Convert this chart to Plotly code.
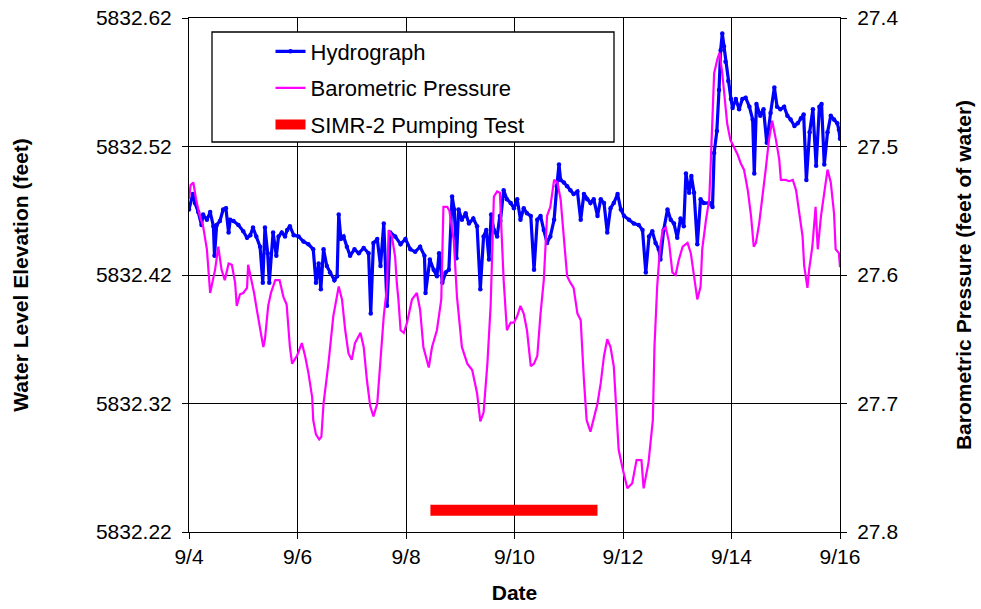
import plotly.graph_objects as go

# ---------------- data ----------------
hydro_day = [4.00, 4.07, 4.11, 4.17, 4.23, 4.26, 4.33, 4.39, 4.45, 4.47, 4.51, 4.57, 4.63, 4.68, 4.73, 4.76,
             4.82, 4.91, 5.00, 5.07, 5.13, 5.18, 5.24, 5.31, 5.36, 5.40, 5.45, 5.48, 5.55, 5.61, 5.65, 5.71,
             5.77, 5.81, 5.86, 5.93, 6.02, 6.11, 6.20, 6.29, 6.34, 6.39, 6.43, 6.48, 6.54, 6.60, 6.68, 6.73,
             6.76, 6.80, 6.85, 6.91, 6.97, 7.05, 7.13, 7.22, 7.31, 7.35, 7.40, 7.47, 7.53, 7.59, 7.65, 7.71,
             7.80, 7.90, 7.99, 8.08, 8.17, 8.26, 8.34, 8.36, 8.44, 8.51, 8.57, 8.61, 8.67, 8.73, 8.79, 8.85,
             8.89, 8.93, 8.97, 9.03, 9.10, 9.16, 9.24, 9.31, 9.37, 9.43, 9.48, 9.53, 9.57, 9.62, 9.68, 9.73,
             9.74, 9.80, 9.86, 9.93, 9.99, 10.05, 10.11, 10.17, 10.23, 10.30, 10.36, 10.42, 10.48, 10.54, 10.60, 10.66,
             10.73, 10.78, 10.82, 10.85, 10.91, 10.97, 11.03, 11.09, 11.16, 11.22, 11.28, 11.34, 11.40, 11.46, 11.53, 11.59,
             11.65, 11.71, 11.77, 11.83, 11.90, 11.96, 12.02, 12.11, 12.20, 12.29, 12.36, 12.42, 12.48, 12.54, 12.60, 12.66,
             12.69, 12.75, 12.82, 12.88, 12.94, 13.00, 13.06, 13.12, 13.16, 13.22, 13.26, 13.31, 13.37, 13.43, 13.49, 13.59,
             13.65, 13.68, 13.73, 13.77, 13.80, 13.83, 13.86, 13.89, 13.94, 13.99, 14.02, 14.08, 14.14, 14.20, 14.26, 14.33,
             14.39, 14.42, 14.46, 14.53, 14.59, 14.65, 14.72, 14.79, 14.84, 14.90, 14.97, 15.03, 15.09, 15.16, 15.22, 15.28,
             15.33, 15.38, 15.44, 15.50, 15.56, 15.62, 15.66, 15.71, 15.77, 15.83, 15.89, 15.95, 15.98, 16.00]
hydro_elev = [5832.471, 5832.483, 5832.476, 5832.469, 5832.459, 5832.467, 5832.463, 5832.469, 5832.458, 5832.435, 5832.459, 5832.462, 5832.471, 5832.472, 5832.453, 5832.463,
              5832.462, 5832.459, 5832.454, 5832.449, 5832.451, 5832.457, 5832.450, 5832.442, 5832.414, 5832.457, 5832.437, 5832.414, 5832.453, 5832.435, 5832.450, 5832.453,
              5832.450, 5832.455, 5832.458, 5832.451, 5832.450, 5832.446, 5832.444, 5832.440, 5832.414, 5832.429, 5832.409, 5832.440, 5832.427, 5832.422, 5832.416, 5832.419,
              5832.467, 5832.448, 5832.450, 5832.442, 5832.435, 5832.440, 5832.437, 5832.441, 5832.437, 5832.390, 5832.445, 5832.448, 5832.427, 5832.460, 5832.396, 5832.453,
              5832.450, 5832.444, 5832.448, 5832.440, 5832.438, 5832.442, 5832.435, 5832.406, 5832.432, 5832.424, 5832.419, 5832.437, 5832.414, 5832.422, 5832.424, 5832.481,
              5832.471, 5832.433, 5832.471, 5832.463, 5832.468, 5832.460, 5832.464, 5832.458, 5832.409, 5832.450, 5832.455, 5832.432, 5832.467, 5832.455, 5832.450, 5832.466,
              5832.462, 5832.486, 5832.479, 5832.476, 5832.472, 5832.479, 5832.463, 5832.472, 5832.468, 5832.466, 5832.424, 5832.463, 5832.466, 5832.455, 5832.445, 5832.450,
              5832.463, 5832.489, 5832.506, 5832.494, 5832.492, 5832.489, 5832.486, 5832.483, 5832.485, 5832.463, 5832.483, 5832.479, 5832.476, 5832.479, 5832.466, 5832.479,
              5832.476, 5832.453, 5832.472, 5832.476, 5832.483, 5832.471, 5832.466, 5832.463, 5832.460, 5832.459, 5832.455, 5832.422, 5832.450, 5832.454, 5832.445, 5832.440,
              5832.432, 5832.455, 5832.471, 5832.463, 5832.460, 5832.449, 5832.464, 5832.458, 5832.499, 5832.484, 5832.497, 5832.484, 5832.444, 5832.479, 5832.476, 5832.476,
              5832.473, 5832.515, 5832.532, 5832.564, 5832.595, 5832.608, 5832.598, 5832.586, 5832.571, 5832.557, 5832.550, 5832.557, 5832.549, 5832.557, 5832.558, 5832.551,
              5832.541, 5832.499, 5832.553, 5832.544, 5832.549, 5832.523, 5832.546, 5832.566, 5832.551, 5832.549, 5832.551, 5832.544, 5832.541, 5832.536, 5832.538, 5832.542,
              5832.545, 5832.494, 5832.531, 5832.549, 5832.505, 5832.551, 5832.553, 5832.506, 5832.531, 5832.544, 5832.541, 5832.538, 5832.533, 5832.526]

baro_day = [4.00, 4.03, 4.08, 4.13, 4.20, 4.26, 4.33, 4.39, 4.48, 4.54, 4.60, 4.66, 4.73, 4.79, 4.85, 4.88,
            4.94, 5.00, 5.07, 5.09, 5.16, 5.20, 5.25, 5.31, 5.37, 5.40, 5.46, 5.51, 5.59, 5.67, 5.74, 5.80,
            5.86, 5.90, 5.99, 6.08, 6.14, 6.20, 6.27, 6.29, 6.34, 6.40, 6.44, 6.48, 6.57, 6.66, 6.76, 6.82,
            6.88, 6.94, 7.00, 7.06, 7.16, 7.22, 7.28, 7.34, 7.40, 7.47, 7.53, 7.59, 7.65, 7.68, 7.74, 7.80,
            7.83, 7.86, 7.90, 7.96, 8.02, 8.11, 8.20, 8.26, 8.32, 8.42, 8.48, 8.57, 8.65, 8.69, 8.76, 8.80,
            8.88, 8.94, 9.03, 9.13, 9.22, 9.31, 9.37, 9.43, 9.50, 9.56, 9.62, 9.68, 9.73, 9.80, 9.86, 9.93,
            9.99, 10.05, 10.11, 10.17, 10.23, 10.30, 10.36, 10.42, 10.48, 10.54, 10.60, 10.66, 10.73, 10.79, 10.85, 10.91,
            10.97, 11.03, 11.09, 11.16, 11.22, 11.28, 11.33, 11.40, 11.53, 11.59, 11.65, 11.71, 11.77, 11.83, 11.88, 11.92,
            12.00, 12.08, 12.17, 12.25, 12.34, 12.38, 12.47, 12.51, 12.55, 12.58, 12.63, 12.68, 12.73, 12.79, 12.85, 12.91,
            12.97, 13.03, 13.10, 13.19, 13.25, 13.31, 13.37, 13.43, 13.46, 13.53, 13.59, 13.62, 13.68, 13.74, 13.78, 13.83,
            13.87, 13.92, 13.98, 14.04, 14.11, 14.17, 14.23, 14.30, 14.36, 14.41, 14.45, 14.51, 14.57, 14.63, 14.69, 14.75,
            14.82, 14.88, 14.91, 15.00, 15.06, 15.13, 15.19, 15.25, 15.31, 15.34, 15.40, 15.43, 15.49, 15.55, 15.59, 15.65,
            15.71, 15.77, 15.83, 15.89, 15.92, 15.98, 16.00]
baro_ft = [27.541, 27.530, 27.528, 27.541, 27.554, 27.562, 27.580, 27.614, 27.596, 27.578, 27.596, 27.604, 27.591, 27.592, 27.606, 27.624,
           27.615, 27.614, 27.610, 27.592, 27.606, 27.614, 27.627, 27.643, 27.656, 27.650, 27.624, 27.614, 27.604, 27.604, 27.617, 27.623,
           27.656, 27.669, 27.663, 27.653, 27.663, 27.676, 27.695, 27.713, 27.724, 27.728, 27.726, 27.700, 27.669, 27.632, 27.609, 27.619,
           27.643, 27.661, 27.666, 27.653, 27.645, 27.656, 27.682, 27.702, 27.710, 27.700, 27.669, 27.632, 27.609, 27.565, 27.570, 27.586,
           27.606, 27.619, 27.643, 27.645, 27.637, 27.619, 27.614, 27.627, 27.656, 27.672, 27.656, 27.643, 27.619, 27.547, 27.547, 27.550,
           27.573, 27.617, 27.656, 27.669, 27.674, 27.692, 27.714, 27.707, 27.669, 27.624, 27.539, 27.535, 27.536, 27.604, 27.643, 27.637,
           27.637, 27.632, 27.624, 27.630, 27.643, 27.671, 27.669, 27.663, 27.630, 27.604, 27.554, 27.547, 27.526, 27.528, 27.541, 27.570,
           27.601, 27.606, 27.610, 27.630, 27.635, 27.682, 27.713, 27.722, 27.700, 27.684, 27.663, 27.650, 27.656, 27.671, 27.707, 27.736,
           27.752, 27.766, 27.762, 27.744, 27.744, 27.766, 27.746, 27.728, 27.713, 27.656, 27.609, 27.580, 27.565, 27.563, 27.575, 27.598,
           27.600, 27.588, 27.578, 27.575, 27.583, 27.601, 27.619, 27.609, 27.580, 27.557, 27.541, 27.510, 27.443, 27.432, 27.427, 27.443,
           27.463, 27.482, 27.495, 27.500, 27.506, 27.513, 27.518, 27.534, 27.554, 27.578, 27.575, 27.560, 27.541, 27.518, 27.495, 27.480,
           27.495, 27.510, 27.526, 27.526, 27.527, 27.526, 27.534, 27.554, 27.570, 27.593, 27.610, 27.596, 27.578, 27.547, 27.580, 27.554,
           27.534, 27.518, 27.528, 27.552, 27.580, 27.583, 27.594]

pump_day = [8.45, 11.53]
pump_level = [5832.237, 5832.237]

tick_days = [4, 6, 8, 10, 12, 14, 16]
tick_labels = ["9/4", "9/6", "9/8", "9/10", "9/12", "9/14", "9/16"]

FONT = "Liberation Sans, Arial, sans-serif"

fig = go.Figure()

fig.add_trace(go.Scatter(
    x=baro_day, y=baro_ft, yaxis="y2", mode="lines", name="Barometric Pressure",
    line=dict(color="#FF00FF", width=2.2), legendgroup="b", legendrank=2))
fig.add_trace(go.Scatter(
    x=hydro_day, y=hydro_elev, mode="lines+markers", name="Hydrograph",
    line=dict(color="#0000FF", width=3.2), marker=dict(color="#0000FF", size=4.5),
    legendgroup="a", legendrank=1))
fig.add_trace(go.Scatter(
    x=pump_day, y=pump_level, mode="lines", name="SIMR-2 Pumping Test",
    line=dict(color="#FF0000", width=11), legendgroup="c", legendrank=3))

W, H = 981, 609
L, R, T, B = 189, 141, 18, 77
pw = W - L - R
ph = H - T - B

def px_x(p):
    return (p - L) / pw

def px_y(p):
    return (H - B - p) / ph

fig.update_layout(
    width=W, height=H,
    margin=dict(l=L, r=R, t=T, b=B, autoexpand=False),
    paper_bgcolor="white", plot_bgcolor="white",
    font=dict(family=FONT, size=21, color="black"),
    showlegend=True,
    legend=dict(x=px_x(270.5), y=px_y(30.5), xanchor="left", yanchor="top",
                bgcolor="rgba(0,0,0,0)", borderwidth=0,
                font=dict(family=FONT, size=22, color="black"),
                tracegroupgap=5, traceorder="grouped"),
    xaxis=dict(range=[4, 16], tickvals=tick_days, ticktext=tick_labels,
               showgrid=True, gridcolor="black", gridwidth=1,
               showline=True, linecolor="black", linewidth=1, mirror=True,
               ticks="outside", ticklen=6, tickcolor="black",
               tickfont=dict(size=21), automargin=False,
               title=dict(text="<b>Date</b>", font=dict(size=21), standoff=18),
               zeroline=False),
    yaxis=dict(range=[5832.22, 5832.62], dtick=0.1, tick0=5832.22, tickformat=".2f",
               showgrid=True, gridcolor="black", gridwidth=1,
               showline=True, linecolor="black", linewidth=1,
               ticks="outside", ticklen=6, tickcolor="black",
               tickfont=dict(size=21), ticklabelstandoff=6, automargin=False,
               title=dict(text="<b>Water Level Elevation (feet)</b>", font=dict(size=21), standoff=61),
               zeroline=False),
    yaxis2=dict(range=[27.8, 27.4], dtick=0.1, tick0=27.4, tickformat=".1f",
                overlaying="y", side="right", showgrid=False,
                showline=True, linecolor="black", linewidth=1,
                ticks="outside", ticklen=6, tickcolor="black",
                tickfont=dict(size=21), ticklabelstandoff=6, automargin=False,
                title=dict(text="<b>Barometric Pressure (feet of water)</b>", font=dict(size=21), standoff=58),
                zeroline=False),
    shapes=[dict(type="rect", xref="paper", yref="paper",
                 x0=px_x(212), x1=px_x(614), y0=px_y(142), y1=px_y(32),
                 line=dict(color="black", width=1.3), fillcolor="white", layer="above")],
)

fig.write_html("out.html")
